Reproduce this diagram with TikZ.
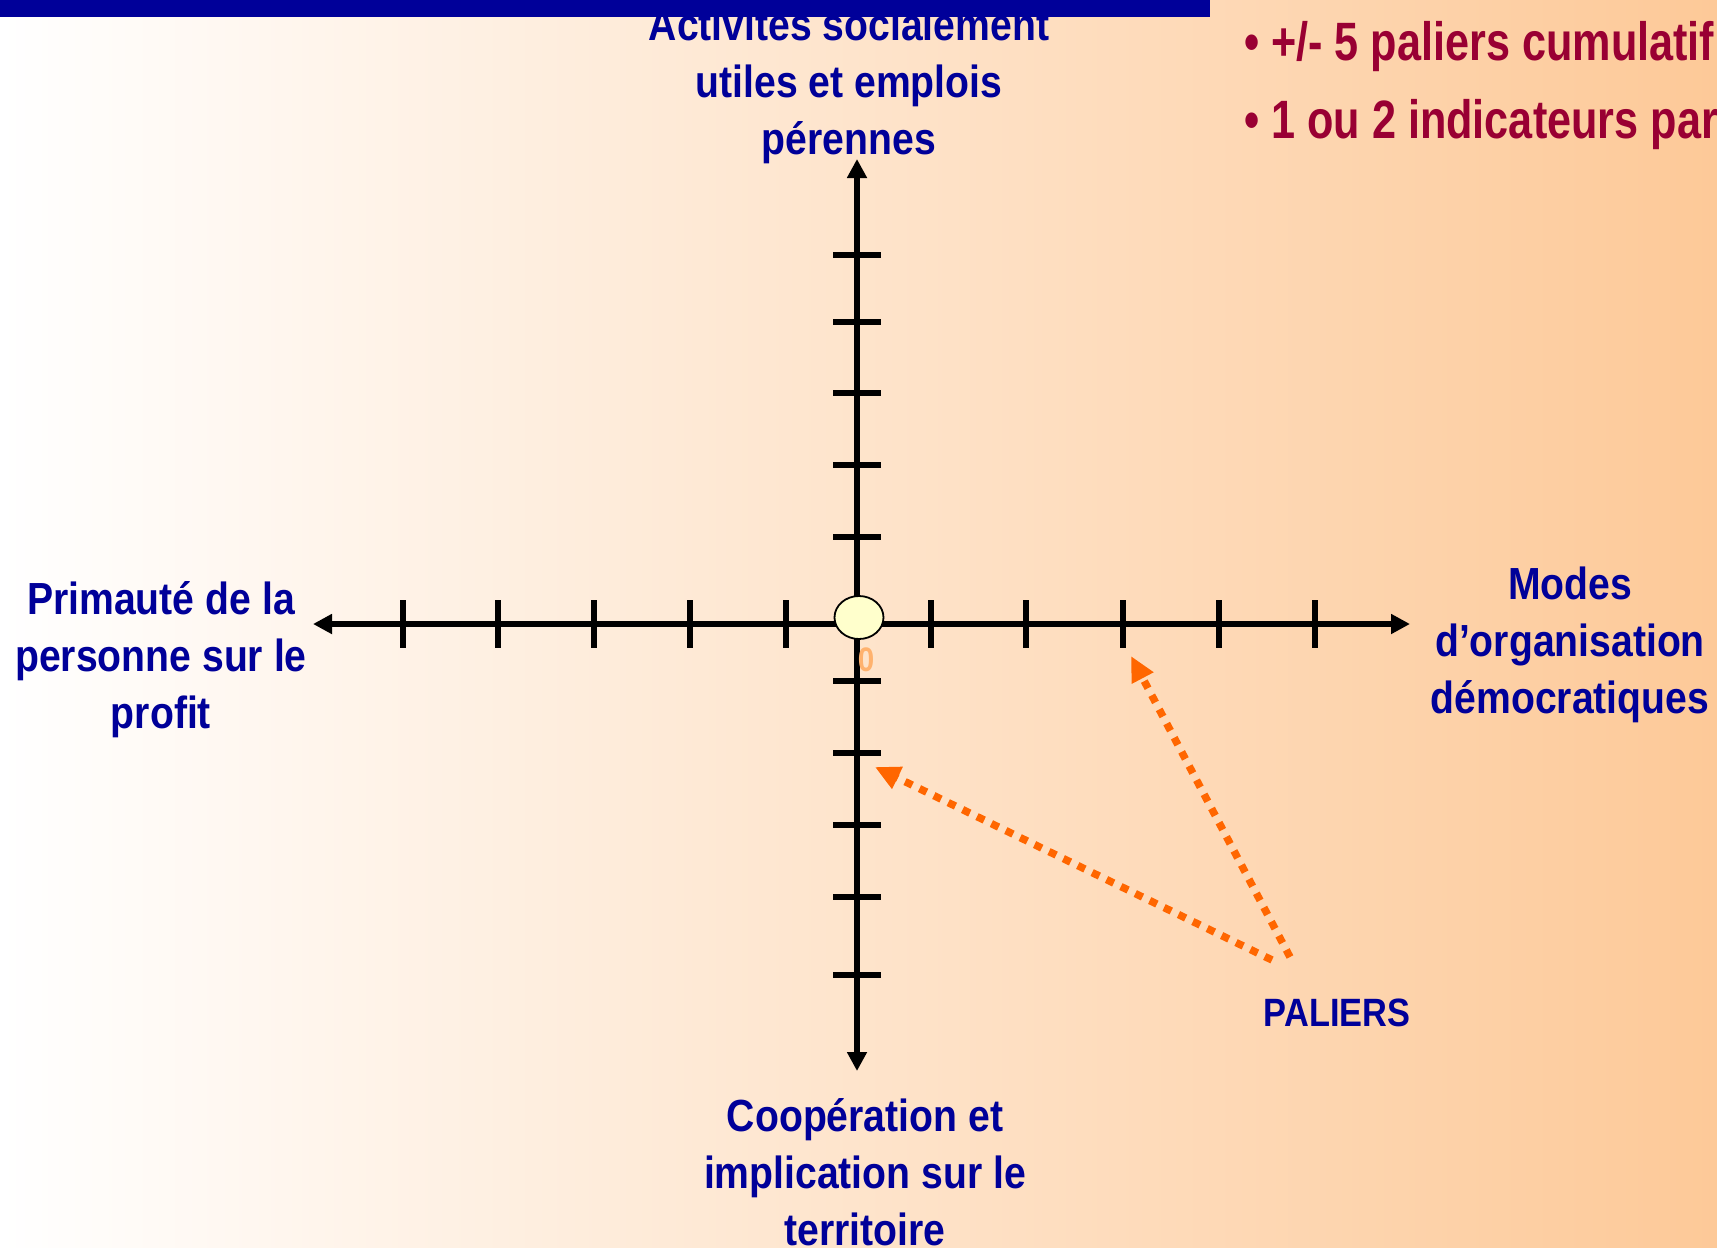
\documentclass[tikz,border=0pt]{standalone}
\usepackage{fontspec}
\usepackage{tikz}
\usetikzlibrary{arrows.meta,shapes.geometric}
\newfontfamily\etiqfont[FakeStretch=0.87]{Liberation Sans}
\newfontfamily\consfont[FakeStretch=0.80]{Liberation Sans}
\definecolor{bleufonce}{RGB}{0,0,153}
\definecolor{bordeaux}{RGB}{153,0,51}
\definecolor{orangevif}{RGB}{255,102,0}
\definecolor{peche}{RGB}{253,201,152}
\definecolor{orangepale}{RGB}{255,178,110}
\definecolor{jaunepale}{RGB}{255,255,204}

\begin{document}
\begin{tikzpicture}[x=1pt, y=-1pt,
    etiq/.style={font={\etiqfont\bfseries\fontsize{45}{57}\selectfont}, text=bleufonce, align=center, inner sep=0pt},
    cons/.style={font={\consfont\bfseries\fontsize{54}{64}\selectfont}, text=bordeaux, anchor=base west, inner sep=0pt},
    axe/.style={line width=5.5pt, {Triangle[length=19pt,width=19pt]}-{Triangle[length=19pt,width=19pt]}},
    graduation/.style={line width=5.2pt},
    fleche/.style={orangevif, line width=7.5pt, dash pattern=on 8pt off 8pt, -{Triangle[length=25pt,width=23pt]}}]
    \useasboundingbox (0,0) rectangle (1717,1248);
    \clip (0,0) rectangle (1717,1248);
    \shade[left color=white, right color=peche] (0,0) rectangle (1717,1248);
    \node[etiq] (haut) at (849,86) {Activités socialement\\utiles et emplois\\pérennes};
    \fill[bleufonce] (0,0) rectangle (1210,17);
    \node[cons] (consigne1) at (1244,60) {• +/- 5 paliers cumulatif};
    \node[cons] (consigne2) at (1244,138) {• 1 ou 2 indicateurs par};

    \coordinate (xmin) at (313,624);
    \coordinate (xmax) at (1410,624);
    \coordinate (ymin) at (857,1071);
    \coordinate (ymax) at (857,159);
    \draw[axe] (xmin) -- (xmax);
    \draw[axe] (ymin) -- (ymax);
    \foreach \x in {403,498,594,690,786,931,1026,1123,1219,1315} {
        \draw[graduation] (\x,600) -- (\x,648);
    }
    \foreach \y in {255,322,393,465,537,681,753,825,897,975} {
        \draw[graduation] (833,\y) -- (881,\y);
    }
    \node[ellipse, draw, line width=1.8pt, fill=jaunepale, minimum width=49pt, minimum height=43pt, inner sep=0pt] (origine) at (859,617.5) {};
    \node[font={\etiqfont\bfseries\fontsize{34}{38}\selectfont}, text=orangepale, anchor=base, inner sep=0pt] (zero) at (866,671) {0};

    \node[etiq] (gauche) at (161,660) {Primauté de la\\personne sur le\\profit};
    \node[etiq] (droite) at (1570,645) {Modes\\d’organisation\\démocratiques};
    \node[etiq] (bas) at (865,1172) {Coopération et\\implication sur le\\territoire};
    \node[etiq, font={\etiqfont\bfseries\fontsize{39.5}{46}\selectfont}, anchor=base] (paliers) at (1337,1026) {PALIERS};

    \coordinate (depart1) at (1272,960);
    \coordinate (depart2) at (1290,957);
    \coordinate (cible1) at (875,767);
    \coordinate (cible2) at (1131,656);
    \draw[fleche] (depart1) -- (cible1);
    \draw[fleche] (depart2) -- (cible2);
\end{tikzpicture}
\end{document}
